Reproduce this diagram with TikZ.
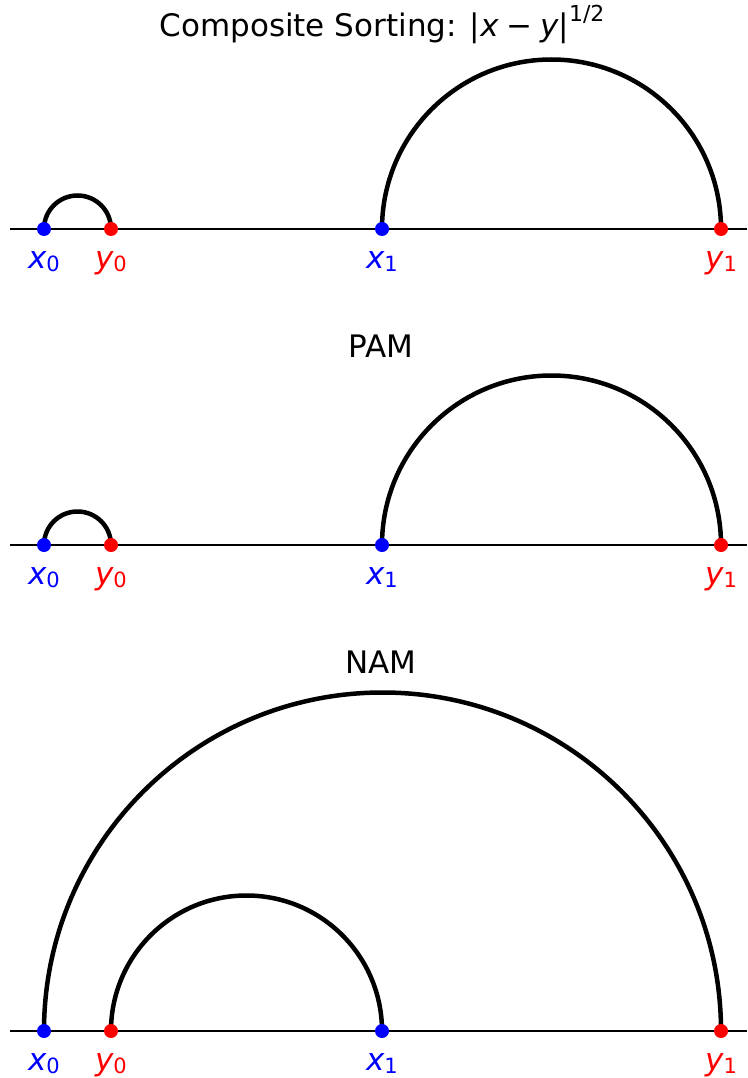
\documentclass[tikz,border=0pt]{standalone}
\usepackage{fontspec}
\setmainfont{DejaVu Sans}
\newcommand{\lab}[2]{{\itshape #1}\raisebox{-3pt}{\fontsize{21}{21}\selectfont #2}}
\tikzset{
  axisline/.style={line width=1.8pt},
  arcline/.style={line width=4.5pt},
  bdot/.style={circle,fill={rgb,255:red,0;green,0;blue,255},inner sep=0pt,minimum size=14pt},
  rdot/.style={circle,fill={rgb,255:red,255;green,0;blue,0},inner sep=0pt,minimum size=14pt},
  blab/.style={text={rgb,255:red,0;green,0;blue,255},anchor=base,inner sep=0pt,font=\fontsize{31}{37}\selectfont},
  rlab/.style={text={rgb,255:red,255;green,0;blue,0},anchor=base,inner sep=0pt,font=\fontsize{31}{37}\selectfont},
  ttl/.style={anchor=base,inner sep=0pt,font=\fontsize{31}{37}\selectfont},
}
\begin{document}
\begin{tikzpicture}[x=1pt,y=-1pt]
\useasboundingbox (0,0) rectangle (747,1078);
% titles
\node[ttl] (t1) at (382,37) {Composite Sorting: |{\itshape x}\hspace{0.25em}−\hspace{0.25em}{\itshape y}|\raisebox{0.5em}{\fontsize{22}{22}\selectfont 1/2}};
\node[ttl] (t2) at (381,357) {PAM};
\node[ttl] (t3) at (381,673) {NAM};
% panel coordinates
\foreach \p/\yy in {a/229,b/545,c/1031}{
  \coordinate (\p L) at (10,\yy);
  \coordinate (\p R) at (747,\yy);
  \coordinate (\p x0) at (44,\yy);
  \coordinate (\p y0) at (111,\yy);
  \coordinate (\p x1) at (382,\yy);
  \coordinate (\p y1) at (721,\yy);
  \draw[axisline] (\p L) -- (\p R);
}
% arcs (y axis points down, so the upper half runs from 180 to 360)
\draw[arcline] (ax0) arc[start angle=180,end angle=360,radius=33.5];
\draw[arcline] (ax1) arc[start angle=180,end angle=360,radius=169.5];
\draw[arcline] (bx0) arc[start angle=180,end angle=360,radius=33.5];
\draw[arcline] (bx1) arc[start angle=180,end angle=360,radius=169.5];
\draw[arcline] (cx0) arc[start angle=180,end angle=360,radius=338.5];
\draw[arcline] (cy0) arc[start angle=180,end angle=360,radius=135.5];
% dots and labels
\foreach \p/\ly in {a/268,b/584,c/1070}{
  \node[bdot] (\p dx0) at (\p x0) {};
  \node[rdot] (\p dy0) at (\p y0) {};
  \node[bdot] (\p dx1) at (\p x1) {};
  \node[rdot] (\p dy1) at (\p y1) {};
  \node[blab] (\p lx0) at (44,\ly) {\lab{x}{0}};
  \node[rlab] (\p ly0) at (111,\ly) {\lab{y}{0}};
  \node[blab] (\p lx1) at (382,\ly) {\lab{x}{1}};
  \node[rlab] (\p ly1) at (721,\ly) {\lab{y}{1}};
}
\end{tikzpicture}
\end{document}
